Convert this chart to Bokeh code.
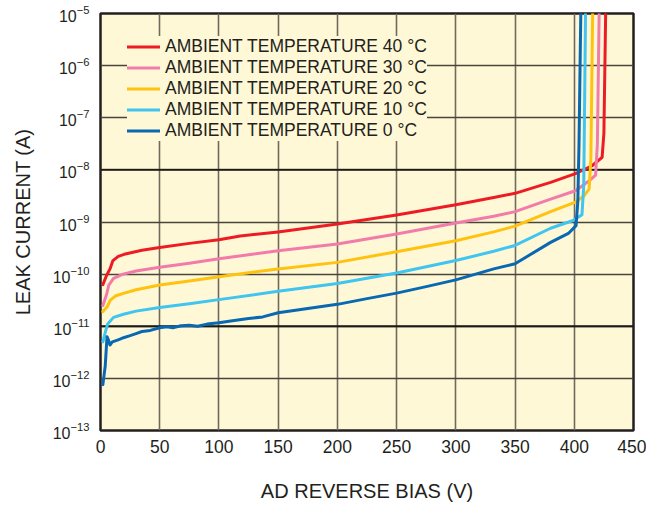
from bokeh.plotting import figure
from bokeh.models import Legend, LegendItem, Span, FixedTicker, Range1d
from bokeh.embed import file_html
from bokeh.resources import INLINE

# ---- data (reverse bias V, leak current A) ----
v_40 = [2, 5, 8, 10.5, 15, 20, 35, 50, 75, 100, 118, 150, 200, 250, 300, 332, 350, 380, 401, 415, 423.5, 425, 426.5]
i_40 = [6.3e-11, 9.3e-11, 1.26e-10, 1.82e-10, 2.19e-10, 2.40e-10, 2.88e-10, 3.24e-10, 3.89e-10, 4.57e-10, 5.37e-10,
        6.46e-10, 9.12e-10, 1.36e-9, 2.14e-9, 2.95e-9, 3.55e-9, 5.75e-9, 8.5e-9, 1.2e-8, 1.74e-8, 5.0e-8, 1.0e-5]

v_30 = [2, 5, 7, 11, 19, 30, 50, 75, 100, 150, 200, 250, 300, 332, 350, 380, 401, 412, 418, 419.5, 421]
i_30 = [2.51e-11, 3.98e-11, 6.17e-11, 8.32e-11, 1.0e-10, 1.15e-10, 1.35e-10, 1.62e-10, 1.97e-10, 2.82e-10, 3.80e-10,
        5.89e-10, 9.55e-10, 1.29e-9, 1.58e-9, 2.75e-9, 3.98e-9, 6.03e-9, 7.94e-9, 3.16e-8, 1.0e-5]

v_20 = [2, 5.5, 8.3, 12.5, 19.4, 30, 50, 75, 100, 150, 200, 250, 300, 332, 350, 380, 401, 408, 412.5, 414, 415.5]
i_20 = [1.91e-11, 2.34e-11, 3.16e-11, 3.80e-11, 4.27e-11, 5.01e-11, 6.17e-11, 7.41e-11, 8.91e-11, 1.26e-10, 1.68e-10,
        2.69e-10, 4.37e-10, 6.46e-10, 8.32e-10, 1.58e-9, 2.40e-9, 3.16e-9, 4.27e-9, 1.58e-8, 1.0e-5]

v_10 = [2, 4, 6, 11, 19.4, 30, 50, 75, 100, 150, 200, 250, 300, 332, 350, 380, 399, 406.5, 408, 409.5]
i_10 = [5.01e-12, 7.59e-12, 1.10e-11, 1.48e-11, 1.70e-11, 1.95e-11, 2.29e-11, 2.69e-11, 3.24e-11, 4.68e-11, 6.61e-11,
        1.05e-10, 1.82e-10, 2.75e-10, 3.55e-10, 7.59e-10, 1.07e-9, 1.38e-9, 5.01e-9, 1.0e-5]

v_0 = [2, 4, 5.5, 6.5, 8, 10, 12.5, 16, 19.4, 25, 30, 35, 42, 50, 56, 61, 68, 75, 82, 90, 100, 110, 125, 137, 150,
       175, 200, 225, 250, 275, 300, 332, 350, 380, 395, 401.5, 403, 404, 405.5]
i_0 = [7.59e-13, 1.74e-12, 6.31e-12, 5.62e-12, 4.37e-12, 5.01e-12, 5.25e-12, 5.62e-12, 6.03e-12, 6.61e-12, 7.24e-12,
       7.94e-12, 8.32e-12, 9.33e-12, 9.77e-12, 9.33e-12, 1.02e-11, 1.05e-11, 1.0e-11, 1.10e-11, 1.17e-11, 1.26e-11,
       1.41e-11, 1.51e-11, 1.82e-11, 2.19e-11, 2.63e-11, 3.39e-11, 4.32e-11, 5.75e-11, 7.76e-11, 1.26e-10, 1.58e-10,
       4.07e-10, 6.03e-10, 8.51e-10, 2.51e-9, 3.16e-8, 1.0e-5]

series_labels = ["AMBIENT TEMPERATURE 40 °C", "AMBIENT TEMPERATURE 30 °C", "AMBIENT TEMPERATURE 20 °C",
                 "AMBIENT TEMPERATURE 10 °C", "AMBIENT TEMPERATURE 0 °C"]
series_colors = ["#ED1C24", "#F27BAA", "#FFC20E", "#40C4F0", "#0868B2"]

x_ticks = [0, 50, 100, 150, 200, 250, 300, 350, 400, 450]
y_ticks = [1e-13, 1e-12, 1e-11, 1e-10, 1e-9, 1e-8, 1e-7, 1e-6, 1e-5]
dark_rules = [1e-8, 1e-11]

FONT = "Liberation Sans"
TXT = "#231f20"
BG = "#FFF8D6"

p = figure(width=646, height=504, y_axis_type="log",
           x_range=Range1d(0, 450), y_range=Range1d(1e-13, 1e-5),
           output_backend="svg", toolbar_location=None,
           min_border_left=100, min_border_right=13, min_border_top=13, min_border_bottom=72)

p.background_fill_color = BG
p.border_fill_color = "white"
p.outline_line_color = TXT
p.outline_line_width = 2.5

p.xaxis.ticker = FixedTicker(ticks=x_ticks)
p.yaxis.ticker = FixedTicker(ticks=y_ticks)
p.xgrid.ticker = FixedTicker(ticks=x_ticks)
p.ygrid.ticker = FixedTicker(ticks=y_ticks)
p.xgrid.grid_line_color = "#6f6a5c"
p.xgrid.grid_line_width = 1.6
p.ygrid.grid_line_color = "#48443c"
p.ygrid.grid_line_width = 1.6

for loc in dark_rules:
    p.add_layout(Span(location=loc, dimension="width", line_color="#1a1a1a", line_width=1.8, level="underlay"))

for ax in (p.xaxis, p.yaxis):
    ax.axis_line_color = None
    ax.major_tick_line_color = None
    ax.minor_tick_line_color = None
    ax.major_label_text_font = FONT
    ax.major_label_text_color = TXT
    ax.axis_label_text_font = FONT
    ax.axis_label_text_font_size = "20px"
    ax.axis_label_text_font_style = "normal"
    ax.axis_label_text_color = TXT

p.xaxis.major_label_text_font_size = "17.5px"
p.yaxis.major_label_text_font_size = "16px"
p.xaxis.axis_label = "AD REVERSE BIAS (V)"
p.yaxis.axis_label = "LEAK CURRENT (A)"
p.xaxis.major_label_standoff = 3
p.xaxis.axis_label_standoff = 24
p.yaxis.major_label_standoff = 5
p.yaxis.axis_label_standoff = 16

xs = [v_40, v_30, v_20, v_10, v_0]
ys = [i_40, i_30, i_20, i_10, i_0]
items = []
for x, y, c, lab in zip(xs, ys, series_colors, series_labels):
    r = p.line(x, y, line_color=c, line_width=3, line_join="round", line_cap="round")
    items.append(LegendItem(label=lab, renderers=[r]))

legend = Legend(items=items, location=(27, 289), padding=4, spacing=0, margin=0,
                glyph_width=33, glyph_height=21, label_height=21, label_standoff=5,
                label_text_font=FONT, label_text_font_size="17.5px", label_text_color=TXT,
                background_fill_color=BG, background_fill_alpha=1.0,
                border_line_color=None)
p.add_layout(legend)

open("out.html", "w").write(file_html(p, INLINE))
